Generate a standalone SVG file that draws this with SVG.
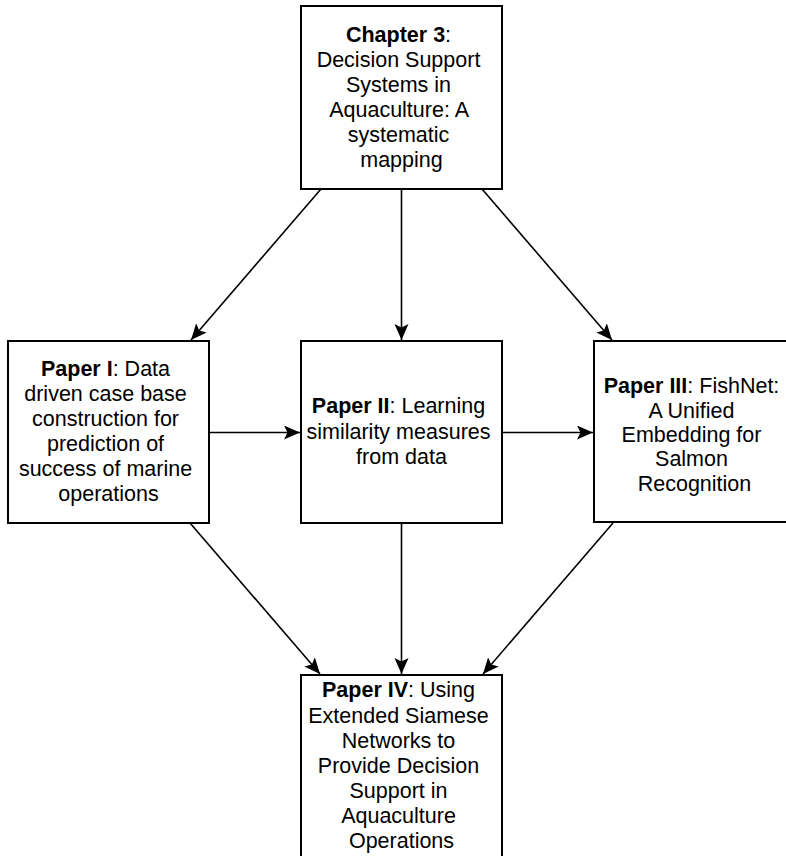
<svg xmlns="http://www.w3.org/2000/svg" width="786" height="856" viewBox="0 0 786 856">
  <style>
    .box { fill: #ffffff; stroke: #000000; stroke-width: 2; }
    .lbl { font-family: "Liberation Sans", Arial, Helvetica, sans-serif; font-size: 21.5px; fill: #000000; text-anchor: middle; }
    .lbl .b { font-weight: bold; }
    .edge { fill: none; stroke: #000000; stroke-width: 1.6; }
  </style>
  <defs>
    <marker id="arrow" markerUnits="userSpaceOnUse" markerWidth="17" markerHeight="15" refX="16" refY="7" orient="auto">
      <path d="M0,0 L16,7 L0,14 L3.5,7 Z" fill="#000000"/>
    </marker>
  </defs>
  <rect width="786" height="856" fill="#ffffff"/>

  <!-- connectors -->
  <g id="connectors">
    <line class="edge" x1="321" y1="189" x2="191" y2="340" marker-end="url(#arrow)"/>
    <line class="edge" x1="401.5" y1="189" x2="401.5" y2="340" marker-end="url(#arrow)"/>
    <line class="edge" x1="482" y1="189" x2="612" y2="340" marker-end="url(#arrow)"/>
    <line class="edge" x1="209" y1="432.5" x2="300" y2="432.5" marker-end="url(#arrow)"/>
    <line class="edge" x1="502" y1="432.5" x2="593" y2="432.5" marker-end="url(#arrow)"/>
    <line class="edge" x1="190" y1="523" x2="320" y2="674" marker-end="url(#arrow)"/>
    <line class="edge" x1="401.5" y1="523" x2="401.5" y2="674" marker-end="url(#arrow)"/>
    <line class="edge" x1="613" y1="523" x2="483" y2="674" marker-end="url(#arrow)"/>
  </g>

  <!-- Chapter 3 -->
  <g id="chapter3">
    <rect class="box" x="301" y="6" width="201" height="183"/>
    <text class="lbl">
      <tspan x="401.5" y="42"><tspan class="b">Chapter 3</tspan>:</tspan>
      <tspan x="401.5" y="67">Decision Support</tspan>
      <tspan x="401.5" y="92">Systems in</tspan>
      <tspan x="401.5" y="117">Aquaculture: A</tspan>
      <tspan x="401.5" y="142">systematic</tspan>
      <tspan x="401.5" y="167">mapping</tspan>
    </text>
  </g>

  <!-- Paper I -->
  <g id="paper1">
    <rect class="box" x="8" y="341" width="201" height="182"/>
    <text class="lbl">
      <tspan x="108.5" y="376"><tspan class="b">Paper I</tspan>: Data</tspan>
      <tspan x="108.5" y="401">driven case base</tspan>
      <tspan x="108.5" y="426">construction for</tspan>
      <tspan x="108.5" y="451">prediction of</tspan>
      <tspan x="108.5" y="476">success of marine</tspan>
      <tspan x="108.5" y="501">operations</tspan>
    </text>
  </g>

  <!-- Paper II -->
  <g id="paper2">
    <rect class="box" x="301" y="341" width="201" height="182"/>
    <text class="lbl">
      <tspan x="401.5" y="413"><tspan class="b">Paper II</tspan>: Learning</tspan>
      <tspan x="401.5" y="439">similarity measures</tspan>
      <tspan x="401.5" y="464">from data</tspan>
    </text>
  </g>

  <!-- Paper III -->
  <g id="paper3">
    <rect class="box" x="594" y="341" width="201" height="181"/>
    <text class="lbl">
      <tspan x="694.5" y="393"><tspan class="b">Paper III</tspan>: FishNet:</tspan>
      <tspan x="694.5" y="418">A Unified</tspan>
      <tspan x="694.5" y="442">Embedding for</tspan>
      <tspan x="694.5" y="466">Salmon</tspan>
      <tspan x="694.5" y="491">Recognition</tspan>
    </text>
  </g>

  <!-- Paper IV -->
  <g id="paper4">
    <rect class="box" x="301" y="675" width="201" height="200"/>
    <text class="lbl">
      <tspan x="401.5" y="697"><tspan class="b">Paper IV</tspan>: Using</tspan>
      <tspan x="401.5" y="723">Extended Siamese</tspan>
      <tspan x="401.5" y="748">Networks to</tspan>
      <tspan x="401.5" y="773">Provide Decision</tspan>
      <tspan x="401.5" y="798">Support in</tspan>
      <tspan x="401.5" y="823">Aquaculture</tspan>
      <tspan x="401.5" y="848">Operations</tspan>
    </text>
  </g>
</svg>
